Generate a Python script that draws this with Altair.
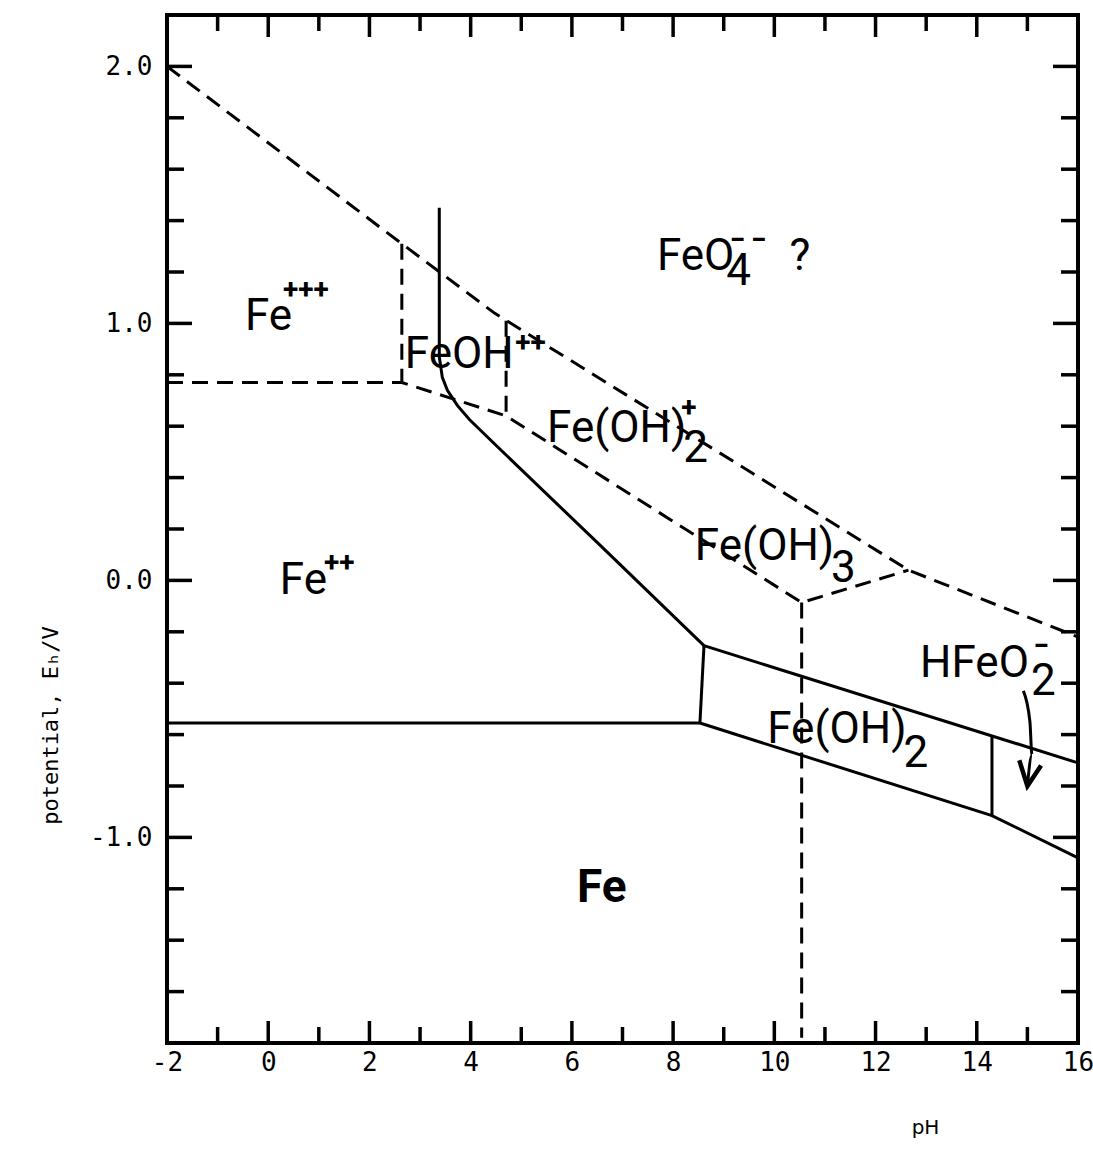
import altair as alt
import pandas as pd

# ---- Fe / H2O potential–pH diagram: boundary lines (pH, Eh in V) ----
# dashed boundaries
feo4_ph = [-2.0, 2.64, 4.47, 12.65, 16.0]
feo4_eh = [2.0, 1.31, 1.04, 0.04, -0.22]

fe3_lower_ph = [-2.0, 2.64, 4.70, 10.54, 12.65]
fe3_lower_eh = [0.77, 0.77, 0.64, -0.086, 0.04]

feoh_left_ph = [2.64, 2.64]
feoh_left_eh = [1.31, 0.77]

feoh_right_ph = [4.70, 4.70]
feoh_right_eh = [1.01, 0.64]

feoh3_split_ph = [10.54, 10.54]
feoh3_split_eh = [-0.086, -1.78]

# solid boundaries
fe2_feoh3_ph = [3.38, 3.38, 3.44, 3.54, 3.74, 3.98, 4.53, 6.54, 8.61]
fe2_feoh3_eh = [1.45, 0.87, 0.79, 0.74, 0.68, 0.625, 0.52, 0.14, -0.254]

fe_fe2_ph = [-2.0, 8.53]
fe_fe2_eh = [-0.555, -0.555]

fe2_feoh2_ph = [8.53, 8.61]
fe2_feoh2_eh = [-0.555, -0.254]

feoh2_top_ph = [8.61, 16.0]
feoh2_top_eh = [-0.254, -0.71]

fe_top_ph = [8.53, 14.30, 16.0]
fe_top_eh = [-0.555, -0.915, -1.08]

feoh2_hfeo2_ph = [14.30, 14.30]
feoh2_hfeo2_eh = [-0.605, -0.915]

arrow_ph = [14.92, 15.05, 15.09, 15.0]
arrow_eh = [-0.43, -0.55, -0.68, -0.80]
arrowhead_ph = [14.84, 15.0, 15.27]
arrowhead_eh = [-0.70, -0.80, -0.72]

# region names: (text, pH, Eh) anchor at left/baseline
name_text = ["Fe", "FeOH", "Fe(OH)", "FeO", "?", "Fe", "Fe(OH)", "HFeO", "Fe(OH)"]
name_ph = [-0.46, 2.70, 5.51, 7.68, 10.30, 0.23, 8.43, 12.88, 9.86]
name_eh = [0.973, 0.825, 0.537, 1.206, 1.206, -0.051, 0.078, -0.377, -0.634]

sub_text = ["2", "4", "3", "2", "2"]
sub_ph = [8.20, 9.05, 11.12, 15.07, 12.55]
sub_eh = [0.459, 1.148, -0.008, -0.447, -0.728]

sup_text = ["+++", "++", "+", "\u2212\u2009\u2212", "++", "\u2212"]
sup_ph = [0.29, 4.88, 8.16, 9.12, 1.10, 15.12]
sup_eh = [1.093, 0.887, 0.634, 1.288, 0.031, -0.292]

metal_text = ["Fe"]
metal_ph = [6.10]
metal_eh = [-1.253]

# axis ticks
x_major = [0, 2, 4, 6, 8, 10, 12, 14]
x_minor = [-1, 1, 3, 5, 7, 9, 11, 13, 15]
x_labels = [-2, 0, 2, 4, 6, 8, 10, 12, 14, 16]
y_major = [-1.0, 0.0, 1.0, 2.0]
y_minor = [-1.6, -1.4, -1.2, -0.8, -0.6, -0.4, -0.2,
           0.2, 0.4, 0.6, 0.8, 1.2, 1.4, 1.6, 1.8]

W, H = 911, 1028
LABEL_FONT = "Liberation Sans Narrow, Roboto, sans-serif"
MONO = "DejaVu Sans Mono"


def lines(parts):
    rows = []
    for name, xs, ys in parts:
        for i, (x, y) in enumerate(zip(xs, ys)):
            rows.append({"seg": name, "i": i, "ph": x, "eh": y})
    return pd.DataFrame(rows)


dashed = lines([
    ("feo4", feo4_ph, feo4_eh),
    ("fe3_lower", fe3_lower_ph, fe3_lower_eh),
    ("feoh_left", feoh_left_ph, feoh_left_eh),
    ("feoh_right", feoh_right_ph, feoh_right_eh),
    ("feoh3_split", feoh3_split_ph, feoh3_split_eh),
])
solid = lines([
    ("fe2_feoh3", fe2_feoh3_ph, fe2_feoh3_eh),
    ("fe_fe2", fe_fe2_ph, fe_fe2_eh),
    ("fe2_feoh2", fe2_feoh2_ph, fe2_feoh2_eh),
    ("feoh2_top", feoh2_top_ph, feoh2_top_eh),
    ("fe_top", fe_top_ph, fe_top_eh),
    ("feoh2_hfeo2", feoh2_hfeo2_ph, feoh2_hfeo2_eh),
])
arrow = lines([
    ("shaft", arrow_ph, arrow_eh),
])
arrowhead = lines([
    ("head", arrowhead_ph, arrowhead_eh),
])

xscale = alt.Scale(domain=[-2, 16], nice=False, zero=False)
yscale = alt.Scale(domain=[-1.8, 2.2], nice=False, zero=False)

x_axis = alt.Axis(
    values=x_labels, format="d", labelExpr="replace(datum.label, '\u2212', '-')",
    ticks=False, domain=False, grid=False, labelFlush=False, labelOverlap=False,
    labelFont=MONO, labelFontSize=26, labelColor="black", labelPadding=6,
    title="pH", titleFont="DejaVu Sans", titleFontSize=20, titleFontWeight="normal",
    titleColor="black", titleX=758, titleY=84, titleAlign="center",
    titleBaseline="middle", titleAnchor="start",
)
y_axis = alt.Axis(
    values=y_major, format=".1f", labelExpr="replace(datum.label, '\u2212', '-')",
    ticks=False, domain=False, grid=False, labelFlush=False, labelOverlap=False,
    labelFont=MONO, labelFontSize=26, labelColor="black", labelPadding=15,
    title="potential,  E\u2095/V", titleFont=MONO, titleFontSize=22,
    titleFontWeight="normal", titleColor="black",
    titleX=-117, titleY=710, titleAngle=270, titleAlign="center",
    titleBaseline="middle", titleAnchor="start",
)

x_enc = alt.X("ph:Q", scale=xscale, axis=x_axis)
y_enc = alt.Y("eh:Q", scale=yscale, axis=y_axis)

dashed_layer = alt.Chart(dashed).mark_line(
    color="black", strokeWidth=3, strokeDash=[16, 9]
).encode(x=x_enc, y=y_enc, detail="seg:N", order="i:Q")

solid_layer = alt.Chart(solid).mark_line(
    color="black", strokeWidth=3
).encode(x="ph:Q", y="eh:Q", detail="seg:N", order="i:Q")

arrow_layer = alt.Chart(arrow).mark_line(
    color="black", strokeWidth=3, interpolate="monotone"
).encode(x="ph:Q", y="eh:Q", detail="seg:N", order="i:Q")

arrowhead_layer = alt.Chart(arrowhead).mark_line(
    color="black", strokeWidth=4.5, strokeJoin="miter"
).encode(x="ph:Q", y="eh:Q", detail="seg:N", order="i:Q")


def text_layer(texts, xs, ys, size, weight="normal", font=LABEL_FONT):
    df = pd.DataFrame({"t": texts, "ph": xs, "eh": ys})
    return alt.Chart(df).mark_text(
        align="left", baseline="alphabetic", font=font, fontSize=size,
        fontWeight=weight, color="black"
    ).encode(x="ph:Q", y="eh:Q", text="t:N")


names = text_layer(name_text, name_ph, name_eh, 44)
subs = text_layer(sub_text, sub_ph, sub_eh, 44)
sups = text_layer(sup_text, sup_ph, sup_eh, 28, "bold")
metal = text_layer(metal_text, metal_ph, metal_eh, 46, "bold")


# inward ticks on all four sides
def xticks(vals, length):
    df = pd.DataFrame({"ph": vals})
    bottom = alt.Chart(df).mark_rule(color="black", strokeWidth=3.5).encode(
        x="ph:Q", y=alt.value(H), y2=alt.value(H - length))
    top = alt.Chart(df).mark_rule(color="black", strokeWidth=3.5).encode(
        x="ph:Q", y=alt.value(0), y2=alt.value(length))
    return [bottom, top]


def yticks(vals, length):
    df = pd.DataFrame({"eh": vals})
    left = alt.Chart(df).mark_rule(color="black", strokeWidth=3.5).encode(
        y="eh:Q", x=alt.value(0), x2=alt.value(length))
    right = alt.Chart(df).mark_rule(color="black", strokeWidth=3.5).encode(
        y="eh:Q", x=alt.value(W), x2=alt.value(W - length))
    return [left, right]


tick_layers = (xticks(x_major, 22) + xticks(x_minor, 16)
               + yticks(y_major, 25) + yticks(y_minor, 17))

chart = alt.layer(
    dashed_layer, solid_layer, arrow_layer, arrowhead_layer, *tick_layers,
    names, subs, sups, metal,
).properties(
    width=W, height=H,
    autosize=alt.AutoSizeParams(type="none"),
    padding={"left": 167, "top": 15, "right": 15, "bottom": 128},
    background="white",
).configure_view(
    stroke="black", strokeWidth=4
)

chart.save("out.html", embed_options={"renderer": "svg", "actions": False})
